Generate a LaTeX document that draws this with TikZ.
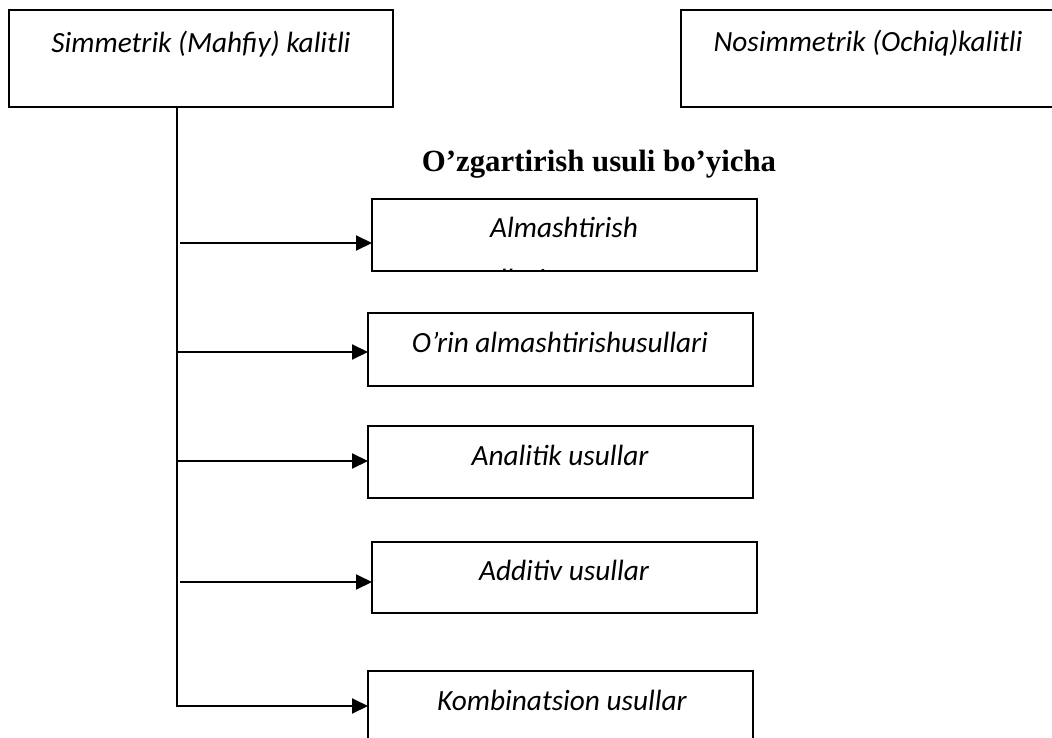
\documentclass[tikz,border=0pt]{standalone}
\usepackage{fontspec}
\newfontfamily\boxfont{Carlito}
\newfontfamily\titlefont{Liberation Serif}
\usetikzlibrary{arrows.meta}
\begin{document}
\begin{tikzpicture}[x=1pt,y=-1pt,
  boxstyle/.style={draw, line width=1.6pt, inner sep=0pt, outer sep=0pt, anchor=north west},
  lbl/.style={font=\boxfont\itshape\fontsize{29.3}{35}\selectfont, inner sep=0pt, anchor=base},
  conn/.style={line width=2pt},
  arr/.style={conn, -{Triangle[length=16pt,width=15pt]}}]
\useasboundingbox (0,0) rectangle (1052,738);
\clip (0,0) rectangle (1052,738);
% top boxes
\node[boxstyle, minimum width=384pt, minimum height=97pt] (box1) at (9,10) {};
\node[boxstyle, minimum width=380pt, minimum height=97pt] (box2) at (681,10) {};
\node[lbl] (t1) at (201,53) {Simmetrik (Mahfiy) kalitli};
\node[lbl] (t2) at (868,52) {Nosimmetrik (Ochiq)kalitli};
% title
\node[font=\titlefont\bfseries\fontsize{30.8}{37}\selectfont, inner sep=0pt, anchor=base] (title) at (599,172) {O’zgartirish usuli bo’yicha};
% method boxes
\node[boxstyle, minimum width=385pt, minimum height=72pt] (A) at (372,199) {};
\node[boxstyle, minimum width=385pt, minimum height=73pt] (B) at (368,313) {};
\node[boxstyle, minimum width=385pt, minimum height=72pt] (C) at (368,426) {};
\node[boxstyle, minimum width=385pt, minimum height=71pt] (D) at (372,542) {};
\node[boxstyle, minimum width=385pt, minimum height=95pt] (E) at (368,671) {};
\node[lbl] (tA) at (564,237) {Almashtirish};
\begin{scope}
\clip ([xshift=1pt,yshift=-1pt]A.north west) rectangle ([xshift=-1pt,yshift=1pt]A.south east);
\node[lbl, anchor=base west] (tA2) at (458,289) {usullari};
\end{scope}
\node[lbl] (tB) at (560,352) {O’rin almashtirishusullari};
\node[lbl] (tC) at (560,465) {Analitik usullar};
\node[lbl] (tD) at (564,580) {Additiv usullar};
\node[lbl] (tE) at (562,710) {Kombinatsion usullar};
% connectors
\coordinate (trunkTop) at (177,107);
\coordinate (sA) at (180,243);
\coordinate (sB) at (177,352);
\coordinate (sC) at (177,461);
\coordinate (sD) at (180,582);
\coordinate (sE) at (177,706);
\draw[arr] (trunkTop) -- (sE) -- (sE -| E.west);
\draw[arr] (sA) -- (sA -| A.west);
\draw[arr] (sB) -- (sB -| B.west);
\draw[arr] (sC) -- (sC -| C.west);
\draw[arr] (sD) -- (sD -| D.west);
\end{tikzpicture}
\end{document}
